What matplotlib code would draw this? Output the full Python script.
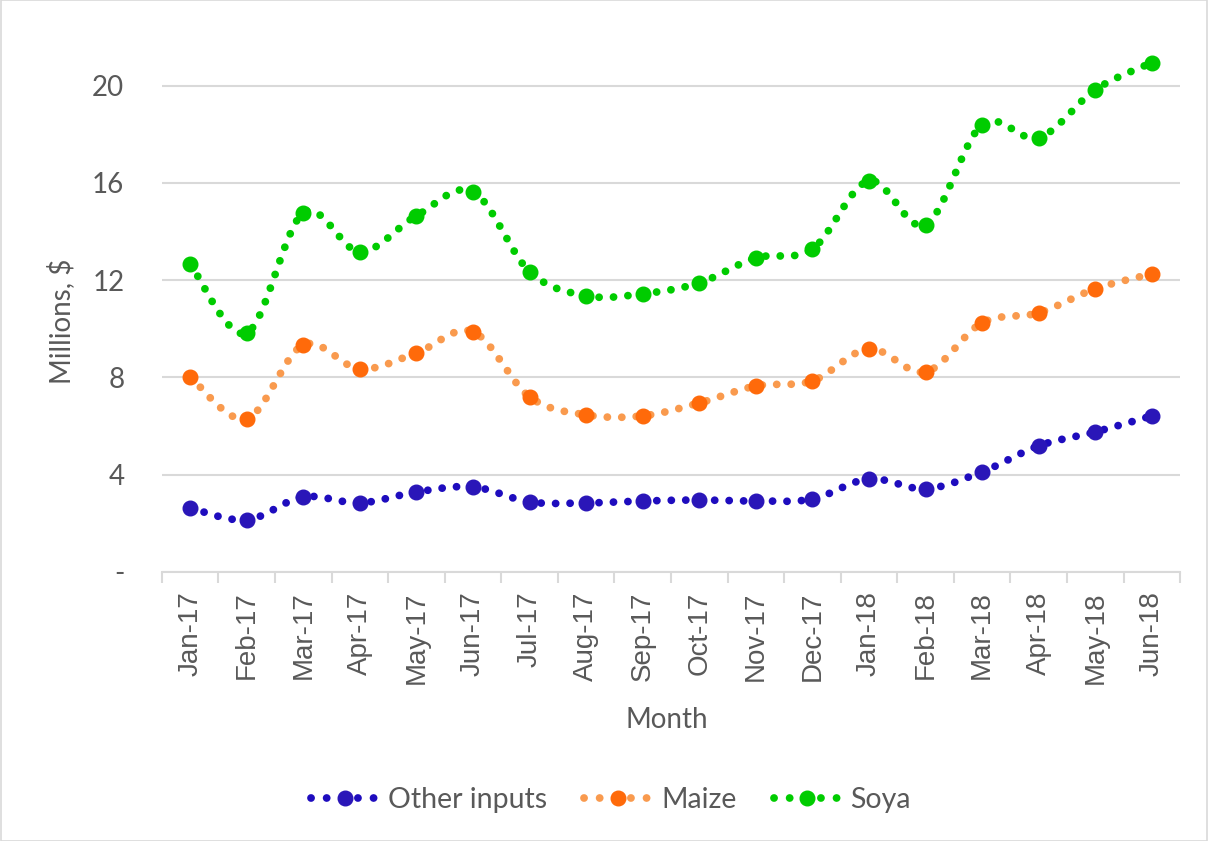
import numpy as np
import matplotlib
matplotlib.use("Agg")
import matplotlib.pyplot as plt
from matplotlib.patches import Rectangle

months = ["Jan-17", "Feb-17", "Mar-17", "Apr-17", "May-17", "Jun-17", "Jul-17", "Aug-17",
          "Sep-17", "Oct-17", "Nov-17", "Dec-17", "Jan-18", "Feb-18", "Mar-18", "Apr-18",
          "May-18", "Jun-18"]
other_inputs = [2.63, 2.14, 3.09, 2.84, 3.29, 3.50, 2.88, 2.84, 2.92, 2.96, 2.92, 3.00,
                3.83, 3.42, 4.12, 5.19, 5.76, 6.42]
maize = [8.02, 6.30, 9.34, 8.35, 9.01, 9.88, 7.20, 6.46, 6.42, 6.95, 7.65, 7.86,
         9.18, 8.23, 10.25, 10.66, 11.65, 12.26]
soya = [12.67, 9.83, 14.77, 13.17, 14.65, 15.64, 12.35, 11.36, 11.44, 11.89, 12.92, 13.29,
        16.09, 14.28, 18.40, 17.86, 19.84, 20.95]
y_ticks = [0, 4, 8, 12, 16, 20]
y_tick_labels = ["-", "4", "8", "12", "16", "20"]

series = [
    ("Other inputs", other_inputs, "#1E0CBE", "#2A16B8"),
    ("Maize", maize, "#F99A4E", "#FF6A0A"),
    ("Soya", soya, "#00CC00", "#00CC00"),
]

FONT = ["Lato", "DejaVu Sans"]
XFONT = ["Liberation Sans", "DejaVu Sans"]
TXT = "#595959"
GRID = "#D9D9D9"


def smooth(xs, ys, n=40):
    p = np.column_stack([xs, ys]).astype(float)
    p_ext = np.vstack([p[0], p, p[-1]])
    out = []
    t = np.linspace(0, 1, n)[:, None]
    for i in range(len(p) - 1):
        P0, P1, P2, P3 = p_ext[i], p_ext[i + 1], p_ext[i + 2], p_ext[i + 3]
        c1 = P1 + (P2 - P0) / 6.0
        c2 = P2 - (P3 - P1) / 6.0
        seg = ((1 - t) ** 3) * P1 + 3 * ((1 - t) ** 2) * t * c1 + 3 * (1 - t) * t ** 2 * c2 + t ** 3 * P2
        if i > 0:
            seg = seg[1:]
        out.append(seg)
    out = np.vstack(out)
    return out[:, 0], out[:, 1]


fig = plt.figure(figsize=(12.08, 8.41), dpi=100)
fig.patches.append(Rectangle((0.0005, 0.0005), 0.999, 0.999, transform=fig.transFigure,
                             fill=False, edgecolor=GRID, linewidth=1.2))
ax = fig.add_axes([0.134, 0.3199, 0.843, 0.636])

x = np.arange(len(months))
lw = 5.6
handles = []
for name, vals, lc, mc in series:
    sx, sy = smooth(x, vals)
    ax.plot(sx, sy, color=lc, lw=lw, linestyle=(0, (0.01, 1.85)),
            dash_capstyle="round", solid_capstyle="round", zorder=3)
    ax.plot(x, vals, linestyle="none", marker="o", markersize=10.5,
            markerfacecolor=mc, markeredgecolor=mc, zorder=4)
    h, = ax.plot([], [], color=lc, lw=lw, linestyle=(0, (0.01, 2.0)),
                 dash_capstyle="round", marker="o", markersize=10.5,
                 markerfacecolor=mc, markeredgecolor=mc, label=name)
    handles.append(h)

ax.set_xlim(-0.5, len(months) - 0.5)
ax.set_ylim(0, 22)
ax.set_yticks(y_ticks)
ax.set_yticklabels(y_tick_labels)
ax.yaxis.grid(True, color=GRID, lw=1.5)
ax.set_axisbelow(True)
for s in ["top", "right", "left"]:
    ax.spines[s].set_visible(False)
ax.spines["bottom"].set_color(GRID)
ax.spines["bottom"].set_linewidth(1.5)
ax.tick_params(axis="y", length=0, pad=27, labelsize=20, labelcolor=TXT)

ax.set_xticks(x)
ax.set_xticklabels(months, rotation=90, fontsize=20, color=TXT, family=XFONT)
ax.set_xticks(np.arange(-0.5, len(months)), minor=True)
ax.tick_params(axis="x", which="major", length=0, pad=14)
ax.tick_params(axis="x", which="minor", length=8, width=1.5, color=GRID)
for lab in ax.get_yticklabels():
    lab.set_family(FONT)
    lab.set_horizontalalignment("right")

ax.set_ylabel("Millions, $", fontsize=20, color=TXT, family=FONT, va="center")
ax.yaxis.set_label_coords(-0.0992, 0.469)
ax.set_xlabel("Month", fontsize=20, color=TXT, family=FONT, va="center")
ax.xaxis.set_label_coords(0.4961, -0.2766)

leg = fig.legend(handles=handles, loc="center", bbox_to_anchor=(0.506, 0.049), ncol=3,
                 frameon=False, handlelength=2.35, columnspacing=1.3, handletextpad=0.35,
                 prop={"family": FONT, "size": 20.5})
for t in leg.get_texts():
    t.set_color(TXT)

fig.savefig("out.png", dpi=100)
